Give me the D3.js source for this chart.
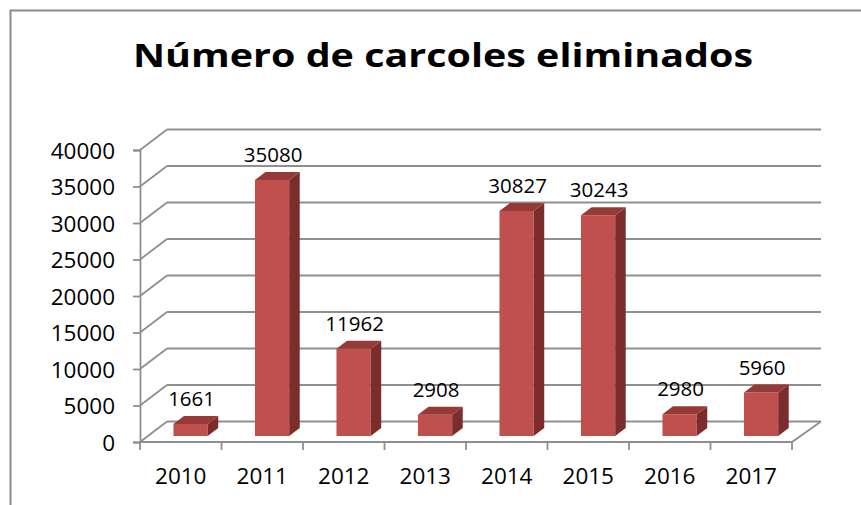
<!DOCTYPE html>
<html>
<head>
<meta charset="utf-8">
<script src="https://cdn.jsdelivr.net/npm/d3@7"></script>
<style>
  body { margin: 0; background: #fff; }
  text { font-family: "Open Sans", "Noto Sans", sans-serif; fill: #000; }
</style>
</head>
<body>
<div id="chart"></div>
<script>
// data
const years = ['2010', '2011', '2012', '2013', '2014', '2015', '2016', '2017'];
const removed = [1661, 35080, 11962, 2908, 30827, 30243, 2980, 5960];
const yTicks = [0, 5000, 10000, 15000, 20000, 25000, 30000, 35000, 40000];
const title = 'Número de carcoles eliminados';

const width = 861;
const height = 505;
// depth of the 3d box (back wall offset)
const depth = {dx: 27, dy: -20.5};

const svg = d3.select('#chart')
  .append('svg')
  .attr('width', width)
  .attr('height', height);

// outer frame (top and left edges only)
svg.append('path')
  .attr('d', 'M10.5,505 L10.5,10.5 L861,10.5')
  .attr('fill', 'none')
  .attr('stroke', '#8a8a8a')
  .attr('stroke-width', 2);

svg.append('text')
  .attr('x', 443)
  .attr('y', 67)
  .attr('text-anchor', 'middle')
  .attr('font-size', 33)
  .attr('font-weight', 'bold')
  .attr('textLength', 620)
  .attr('lengthAdjust', 'spacingAndGlyphs')
  .text(title);

const x = d3.scaleBand()
  .domain(years)
  .range([140, 792]);

const y = d3.scaleLinear()
  .domain([0, 40000])
  .range([442, 150]);

// front-plane x, value, depth 0..1 -> screen point
const proj = (xf, v, d) => [xf + d * depth.dx, y(v) + d * depth.dy];

const gridColor = '#8f8f8f';
const grid = svg.append('g')
  .attr('stroke', gridColor)
  .attr('stroke-width', 1.8)
  .attr('fill', 'none');

// back wall gridlines
grid.selectAll('line.back')
  .data(yTicks)
  .join('line')
  .attr('class', 'back')
  .attr('x1', d => proj(140, d, 1)[0])
  .attr('y1', d => proj(140, d, 1)[1])
  .attr('x2', d => proj(794, d, 1)[0])
  .attr('y2', d => proj(794, d, 1)[1]);

// side wall diagonals
grid.selectAll('line.side')
  .data(yTicks)
  .join('line')
  .attr('class', 'side')
  .attr('x1', d => proj(140, d, 0)[0])
  .attr('y1', d => proj(140, d, 0)[1])
  .attr('x2', d => proj(140, d, 1)[0])
  .attr('y2', d => proj(140, d, 1)[1]);

// floor: front edge and right edge
const f0 = proj(792, 0, 0), f1 = proj(792, 0, 1);
grid.append('path')
  .attr('d', `M140,${y(0)} L${f0[0]},${f0[1]} L${f1[0] + 2},${f1[1]}`);

// value axis
const yAxis = svg.append('g')
  .attr('transform', 'translate(140,0)')
  .call(d3.axisLeft(y).tickValues(yTicks).tickSize(7).tickPadding(18).tickFormat(d3.format('d')));
yAxis.select('.domain').attr('stroke', gridColor).attr('stroke-width', 1.8);
yAxis.selectAll('.tick line').attr('stroke', gridColor).attr('stroke-width', 1.8);
yAxis.selectAll('.tick text')
  .attr('font-size', 22.5)
  .attr('font-family', '"Open Sans", sans-serif')
  .attr('fill', '#000')
  .attr('dy', '0.36em');

// category axis ticks sit between categories
svg.append('g')
  .attr('stroke', gridColor)
  .attr('stroke-width', 1.8)
  .selectAll('line')
  .data(d3.range(years.length + 1))
  .join('line')
  .attr('x1', i => 140 + i * x.bandwidth())
  .attr('x2', i => 140 + i * x.bandwidth())
  .attr('y1', y(0))
  .attr('y2', y(0) + 8);

const xAxis = svg.append('g')
  .attr('transform', `translate(0,${y(0)})`)
  .call(d3.axisBottom(x).tickSize(0).tickPadding(26));
xAxis.select('.domain').remove();
xAxis.selectAll('.tick text')
  .attr('font-size', 22.5)
  .attr('font-family', '"Open Sans", sans-serif')
  .attr('fill', '#000');

// bars
const d0 = 0.29, d1 = 0.68;
const barW = x.bandwidth() * 0.42;
const bars = years.map((c, i) => {
  const xa = x(c) + (x.bandwidth() - barW) / 2 + 2;
  return {c, v: removed[i], xa, xb: xa + barW};
});
const pts = arr => arr.map(p => p.join(',')).join(' ');

const g = svg.append('g');
g.selectAll('polygon.front')
  .data(bars)
  .join('polygon')
  .attr('class', 'front')
  .attr('fill', '#c0504d')
  .attr('points', d => pts([proj(d.xa, 0, d0), proj(d.xb, 0, d0), proj(d.xb, d.v, d0), proj(d.xa, d.v, d0)]));
g.selectAll('polygon.side')
  .data(bars)
  .join('polygon')
  .attr('class', 'side')
  .attr('fill', '#7c2d2b')
  .attr('points', d => pts([proj(d.xb, 0, d0), proj(d.xb, 0, d1), proj(d.xb, d.v, d1), proj(d.xb, d.v, d0)]));
g.selectAll('polygon.top')
  .data(bars)
  .join('polygon')
  .attr('class', 'top')
  .attr('fill', '#963a37')
  .attr('points', d => pts([proj(d.xa, d.v, d0), proj(d.xb, d.v, d0), proj(d.xb, d.v, d1), proj(d.xa, d.v, d1)]));

// value labels
svg.append('g')
  .selectAll('text')
  .data(bars)
  .join('text')
  .attr('x', d => (d.xa + d.xb) / 2 + d0 * depth.dx + 1)
  .attr('y', d => proj(d.xa, d.v, d1)[1] - 10)
  .attr('text-anchor', 'middle')
  .attr('font-size', 20.5)
  .text(d => d.v);
</script>
</body>
</html>
